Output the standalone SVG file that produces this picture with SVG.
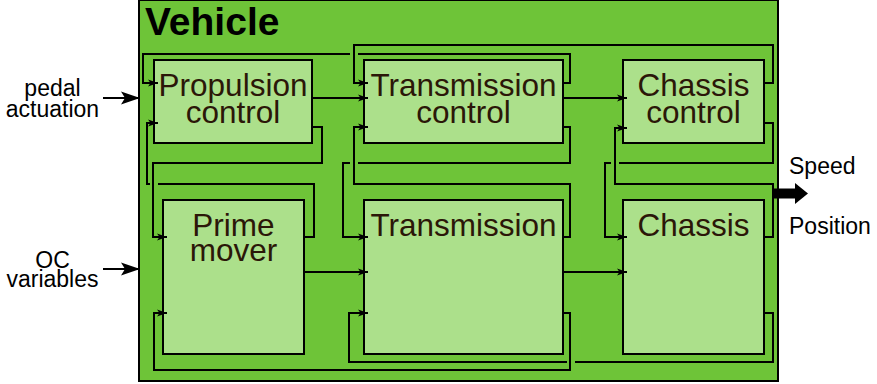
<svg xmlns="http://www.w3.org/2000/svg" width="877" height="384" viewBox="0 0 877 384">
  <style>
    .frame { fill: #6ec438; stroke: #000; stroke-width: 2; }
    .block { fill: #ace08b; stroke: #000; stroke-width: 2; }
    .lbl { font-family: "Liberation Sans", Arial, sans-serif; font-size: 31.5px; fill: #2b1708; text-anchor: middle; }
    .io { font-family: "Liberation Sans", Arial, sans-serif; font-size: 23px; fill: #000; }
    .title { font-family: "Liberation Sans", Arial, sans-serif; font-size: 39px; font-weight: bold; fill: #000; }
    .wire { fill: none; stroke: #000; stroke-width: 2; marker-end: url(#tip); }
    .feed { fill: none; stroke: #000; stroke-width: 2; marker-end: url(#bigtip); }
  </style>
  <defs>
    <marker id="tip" markerUnits="userSpaceOnUse" markerWidth="12" markerHeight="8" viewBox="0 0 12 8" refX="10" refY="4" orient="auto">
      <path d="M0,0.5 L10,4 L0,7.5 L2.5,4 z" fill="#000"/>
    </marker>
    <marker id="bigtip" markerUnits="userSpaceOnUse" markerWidth="20" markerHeight="14" viewBox="0 0 20 14" refX="19" refY="7" orient="auto">
      <path d="M0,0.5 L19,7 L0,13.5 L4,7 z" fill="#000"/>
    </marker>
  </defs>

  <!-- enclosing vehicle frame -->
  <g id="vehicle">
    <rect class="frame" x="139" y="0" width="639" height="381"/>
    <text class="title" x="145" y="35">Vehicle</text>
  </g>

  <g id="propulsion-control">
    <rect class="block" x="154" y="60" width="158" height="83"/>
    <text class="lbl" x="233" y="96">Propulsion</text>
    <text class="lbl" x="233" y="122.5">control</text>
  </g>
  <g id="transmission-control">
    <rect class="block" x="364" y="60" width="199" height="83"/>
    <text class="lbl" x="463.5" y="96">Transmission</text>
    <text class="lbl" x="463.5" y="122.5">control</text>
  </g>
  <g id="chassis-control">
    <rect class="block" x="623" y="60" width="141" height="83"/>
    <text class="lbl" x="693.5" y="96">Chassis</text>
    <text class="lbl" x="693.5" y="122.5">control</text>
  </g>
  <g id="prime-mover">
    <rect class="block" x="163" y="200" width="141" height="154"/>
    <text class="lbl" x="233.5" y="236">Prime</text>
    <text class="lbl" x="233.5" y="261">mover</text>
  </g>
  <g id="transmission">
    <rect class="block" x="364" y="200" width="199" height="154"/>
    <text class="lbl" x="463.5" y="236">Transmission</text>
  </g>
  <g id="chassis">
    <rect class="block" x="623" y="200" width="141" height="154"/>
    <text class="lbl" x="693.5" y="236">Chassis</text>
  </g>

  <!-- signal connectors; breaks in a line mark a crossing without a junction -->
  <g id="connectors">
    <path class="wire" d="M312,98 H368"/>
    <path class="wire" d="M563,98 H627"/>
    <path class="wire" d="M304,272 H368"/>
    <path class="wire" d="M563,272 H627"/>
    <path class="wire" d="M563,83 H570 V54 H358 M350,54 H143 V83 H158"/>
    <path class="wire" d="M764,83 H773 V45 H354 V83 H368"/>
    <path class="wire" d="M312,127 H322 V163 H153 V237 H167"/>
    <path class="wire" d="M304,237 H314 V184 H158 M150,184 H147 V123 H158"/>
    <path class="wire" d="M563,127 H570 V163 H358 M350,163 H343 V237 H368"/>
    <path class="wire" d="M563,237 H570 V184 H354 V127 H368"/>
    <path class="wire" d="M764,123 H773 V163 H619 M611,163 H605 V237 H627"/>
    <path class="wire" d="M764,237 H773 V184 H615 V128 H627"/>
    <path class="wire" d="M764,313 H773 V362 H575 M567,362 H349 V313 H368"/>
    <path class="wire" d="M563,313 H570 V370 H154 V313 H167"/>
    <path class="feed" d="M103,98 H140"/>
    <path class="feed" d="M103,269 H140"/>
    <path d="M773,193.5 H796" stroke="#000" stroke-width="10" fill="none"/>
    <polygon points="795,183 808,193.5 795,204" fill="#000"/>
  </g>

  <g id="inputs">
    <text class="io" x="52.5" y="96" text-anchor="middle">pedal</text>
    <text class="io" x="52.5" y="117" text-anchor="middle">actuation</text>
    <text class="io" x="52.5" y="268" text-anchor="middle">OC</text>
    <text class="io" x="52.5" y="287" text-anchor="middle">variables</text>
  </g>
  <g id="outputs">
    <text class="io" x="789" y="174">Speed</text>
    <text class="io" x="789" y="234">Position</text>
  </g>
</svg>
